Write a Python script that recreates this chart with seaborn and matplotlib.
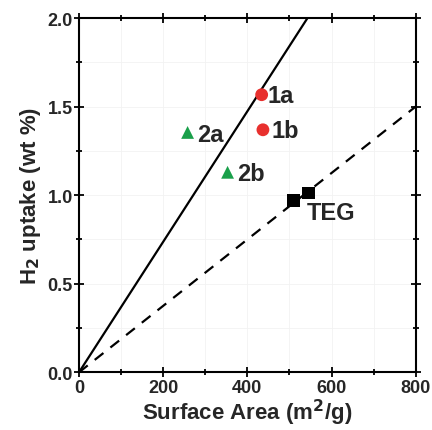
import matplotlib
matplotlib.use("Agg")
import matplotlib.pyplot as plt
import seaborn as sns
import numpy as np
import pandas as pd
from matplotlib.ticker import MultipleLocator

sns.set_theme(style="ticks")
plt.rcParams['font.family'] = ['Liberation Sans', 'DejaVu Sans']
plt.rcParams['font.weight'] = 'bold'

# data
labels = ["1a", "1b", "2a", "2b", "TEG", "TEG"]
groups = ["1", "1", "2", "2", "TEG", "TEG"]
surface_area = [434, 437, 258, 353, 509, 546]
h2_uptake = [1.567, 1.369, 1.354, 1.129, 0.968, 1.012]
solid_slope = 2.0 / 543
dashed_slope = 1.5 / 800

df = pd.DataFrame({"x": surface_area, "y": h2_uptake, "g": groups, "label": labels})

fig = plt.figure(figsize=(4.32, 4.31), dpi=100)
ax = fig.add_axes([79/432, 1 - 373.3/431, (415.7-79)/432, (373.3-19)/431])

xs = np.array([0, 800])
ax.plot(xs, solid_slope * xs, color="black", lw=1.6, ls="-")
ax.plot(xs, dashed_slope * xs, color="black", lw=1.6, ls=(0, (5, 4)))

palette = {"1": "#e8302e", "2": "#1aa04a", "TEG": "black"}
markers = {"1": "o", "2": "^", "TEG": "s"}
sns.scatterplot(data=df, x="x", y="y", hue="g", style="g", palette=palette,
                markers=markers, s=85, edgecolor="none", legend=False, ax=ax, zorder=3)

offsets = {0: (4.5, -0.5), 1: (6.5, -0.5), 2: (7, -1.5), 3: (7, -1)}
for i, (lab, xv, yv) in enumerate(zip(labels, surface_area, h2_uptake)):
    if i in offsets:
        dx, dy = offsets[i]
        ax.annotate(lab, (xv, yv), xytext=(dx, dy), textcoords="offset points",
                    fontsize=17, fontweight="bold", ha="left", va="center")
ax.annotate("TEG", (surface_area[4], h2_uptake[4]), xytext=(9.5, -8.5), textcoords="offset points",
            fontsize=17, fontweight="bold", ha="left", va="center")

ax.set_xlim(0, 800)
ax.set_ylim(0, 2.0)
ax.xaxis.set_major_locator(MultipleLocator(200))
ax.xaxis.set_minor_locator(MultipleLocator(100))
ax.yaxis.set_major_locator(MultipleLocator(0.5))
ax.yaxis.set_minor_locator(MultipleLocator(0.25))
ax.yaxis.set_major_formatter(matplotlib.ticker.FormatStrFormatter('%.1f'))
ax.grid(True, which="both", color="#f2f2f2", lw=0.6)
ax.set_axisbelow(True)

for sp in ax.spines.values():
    sp.set_linewidth(1.5)
    sp.set_color("black")
ax.tick_params(which="both", direction="inout", top=True, right=True, color="black", width=1.3)
ax.tick_params(which="major", length=7, labelsize=13, pad=1)
ax.tick_params(which="minor", length=5)
for t in ax.get_xticklabels() + ax.get_yticklabels():
    t.set_fontweight("bold")

ax.set_xlabel("Surface Area (m$^\\mathbf{2}$/g)", fontsize=16, fontweight="bold", labelpad=1)
ax.set_ylabel("H$_\\mathbf{2}$ uptake (wt %)", fontsize=16, fontweight="bold", labelpad=3)

fig.savefig("out.png", dpi=100)
